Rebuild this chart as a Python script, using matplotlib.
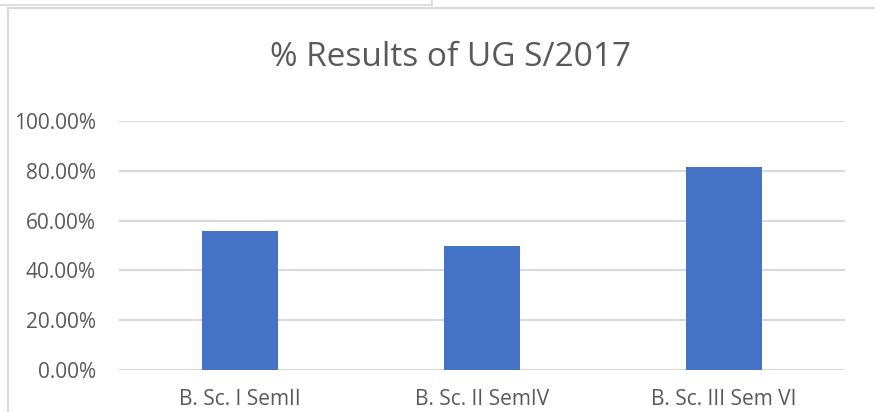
import matplotlib
matplotlib.use("Agg")
import matplotlib.pyplot as plt
from matplotlib.lines import Line2D
from matplotlib.ticker import FuncFormatter

categories = ["B. Sc. I SemII", "B. Sc. II SemIV", "B. Sc. III Sem VI"]
values = [0.558, 0.499, 0.814]
yticks = [0.0, 0.2, 0.4, 0.6, 0.8, 1.0]
title = "% Results of UG S/2017"

W, H = 875, 412
fig = plt.figure(figsize=(W / 100, H / 100), dpi=100)
plt.rcParams['font.family'] = ['Open Sans', 'DejaVu Sans']

def fx(px):
    return px / W

def fy(py):
    return 1 - py / H

ax = fig.add_axes([fx(119), fy(370), fx(845) - fx(119), fy(121) - fy(370)])
x = list(range(len(categories)))
ax.bar(x, values, width=0.314, color="#4472C4", zorder=3)
ax.set_xlim(-0.5, len(categories) - 0.5)
ax.set_ylim(0, 1.0)
ax.set_yticks(yticks)
ax.yaxis.set_major_formatter(FuncFormatter(lambda v, p: f"{v*100:.2f}%"))
ax.set_xticks(x)
ax.set_xticklabels(categories)
ax.grid(axis="y", color="#D9D9D9", linewidth=1.5, zorder=0)
for s in ax.spines.values():
    s.set_visible(False)
ax.tick_params(axis="both", length=0, labelsize=15, colors="#595959")
ax.tick_params(axis="y", pad=16.5)
ax.tick_params(axis="x", pad=14)

fig.text(fx(451), fy(57), title, ha="center", va="center", fontsize=24, color="#595959")

# chart border and surrounding lines
fig.add_artist(Line2D([fx(8), 1], [fy(7.5), fy(7.5)], color="#D9D9D9", linewidth=1.5))
fig.add_artist(Line2D([fx(8), fx(8)], [fy(7.5), 0], color="#D9D9D9", linewidth=1.5))
fig.add_artist(Line2D([0, fx(432)], [fy(5), fy(5)], color="#D9D9D9", linewidth=1.2))
fig.add_artist(Line2D([fx(432), fx(432)], [1, fy(5)], color="#D9D9D9", linewidth=1.2))

fig.savefig("out.png", dpi=100)
